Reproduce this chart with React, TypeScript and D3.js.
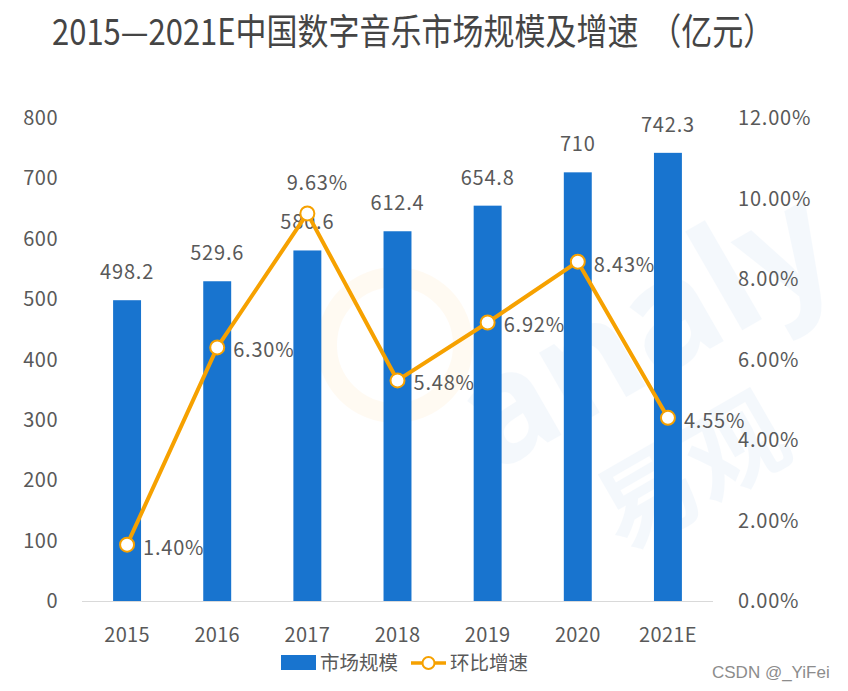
import React from "react";
import * as d3 from "d3";

const categories = ["2015", "2016", "2017", "2018", "2019", "2020", "2021E"];
const marketSize = [498.2, 529.6, 580.6, 612.4, 654.8, 710, 742.3];
const growth = [1.4, 6.3, 9.63, 5.48, 6.92, 8.43, 4.55];
const leftTicks = [0, 100, 200, 300, 400, 500, 600, 700, 800];
const rightTicks = [0, 2, 4, 6, 8, 10, 12];

const W = 848, H = 691;
const plotLeft = 82, plotRight = 713, plotTop = 118, plotBottom = 601;
const FONT = "'Noto Sans CJK SC', 'Noto Sans', sans-serif";
const TEXT = "#595959";
const BLUE = "#1874CF";
const ORANGE = "#F6A100";

export default function App() {
  const x = d3.scaleBand<string>().domain(categories).range([plotLeft, plotRight]).paddingInner(0.69).paddingOuter(0.345);
  const xc = (c: string) => (x(c) as number) + x.bandwidth() / 2;
  const yL = d3.scaleLinear().domain([0, 800]).range([plotBottom, plotTop]);
  const yR = d3.scaleLinear().domain([0, 12]).range([plotBottom, plotTop]);
  const line = d3.line<number>().x((_, i) => xc(categories[i])).y((d) => yR(d));

  return (
    <svg width={W} height={H} style={{ display: "block", position: "absolute", left: 0, top: 0 }} fontFamily={FONT}>
      <rect width={W} height={H} fill="#fff" />
      {/* faint watermark */}
      <g opacity={0.045} fill="#1874CF">
        <text x={430} y={400} fontSize={150} fontFamily="'Noto Sans', sans-serif" fontWeight="bold" transform="rotate(-30 600 320)">analy</text>
        <text x={590} y={530} fontSize={100} fontWeight="bold" transform="rotate(-30 650 480)">易观</text>
      </g>
      <circle cx={395} cy={345} r={68} fill="none" stroke="#F6A100" strokeWidth={20} opacity={0.05} />
      <text transform="translate(52,45) scale(1,1.18)" fontSize={31} fill="#454545">
        2015—2021E中国数字音乐市场规模及增速<tspan dx={12}>（亿元）</tspan>
      </text>
      {/* left axis */}
      {leftTicks.map((t) => (
        <text key={"l" + t} x={58} y={yL(t)} dy="0.35em" textAnchor="end" fontSize={20} letterSpacing={0.5} fill={TEXT}>{t}</text>
      ))}
      {rightTicks.map((t) => (
        <text key={"r" + t} x={738} y={yR(t)} dy="0.35em" textAnchor="start" fontSize={20} letterSpacing={0.8} fill={TEXT}>{t.toFixed(2) + "%"}</text>
      ))}
      {/* bars */}
      {marketSize.map((v, i) => (
        <rect key={"b" + i} x={x(categories[i])} y={yL(v)} width={x.bandwidth()} height={plotBottom - yL(v)} fill={BLUE} />
      ))}
      <line x1={plotLeft} x2={plotRight} y1={plotBottom + 0.5} y2={plotBottom + 0.5} stroke="#D9D9D9" strokeWidth={1} />
      {marketSize.map((v, i) => (
        <text key={"bl" + i} x={xc(categories[i])} y={yL(v) - 21} textAnchor="middle" fontSize={20} letterSpacing={0.8} fill={TEXT}>{String(v)}</text>
      ))}
      {categories.map((c) => (
        <text key={"x" + c} x={xc(c)} y={642} textAnchor="middle" fontSize={20} letterSpacing={0.3} fill={TEXT}>{c}</text>
      ))}
      {/* line */}
      <path d={line(growth) as string} fill="none" stroke={ORANGE} strokeWidth={4} strokeLinejoin="round" />
      {growth.map((g, i) => (
        <circle key={"c" + i} cx={xc(categories[i])} cy={yR(g)} r={7} fill="#fff" stroke={ORANGE} strokeWidth={2} />
      ))}
      {growth.map((g, i) => {
        const above = i === 2;
        return (
          <text key={"gl" + i} x={xc(categories[i]) + (above ? 10 : 16)} y={above ? yR(g) - 23 : yR(g) + 10}
            textAnchor={above ? "middle" : "start"} fontSize={20} letterSpacing={0.8} fill={TEXT}>{g.toFixed(2) + "%"}</text>
        );
      })}
      {/* legend */}
      <rect x={281} y={655} width={35} height={15} fill={BLUE} />
      <text x={320} y={663} dy="0.35em" fontSize={19.5} fill={TEXT}>市场规模</text>
      <line x1={411} x2={446} y1={663} y2={663} stroke={ORANGE} strokeWidth={3.5} />
      <circle cx={428.5} cy={663} r={6} fill="#fff" stroke={ORANGE} strokeWidth={2} />
      <text x={450} y={663} dy="0.35em" fontSize={19.5} fill={TEXT}>环比增速</text>
      <text x={712} y={678} fontSize={17} fill="#8c8c8c" fontFamily="'Liberation Sans', sans-serif">CSDN @_YiFei</text>
    </svg>
  );
}
